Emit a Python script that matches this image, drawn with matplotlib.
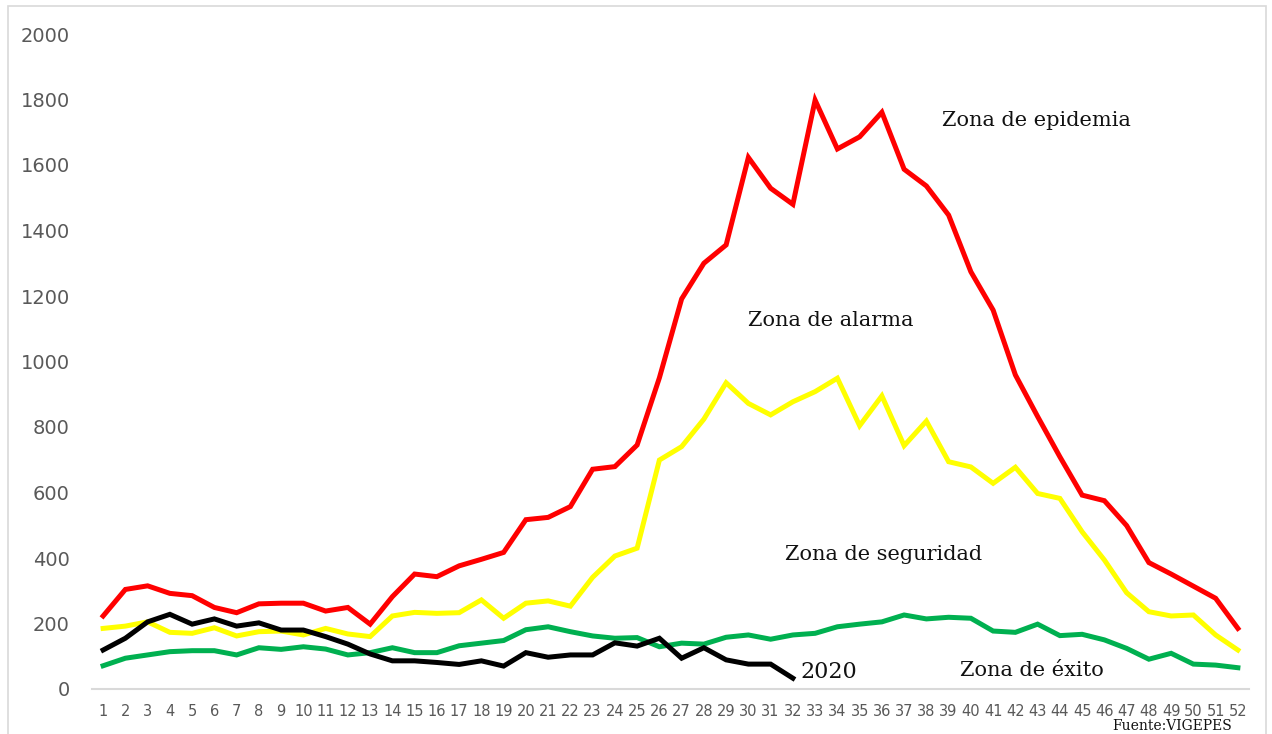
import matplotlib
matplotlib.use("Agg")
import matplotlib.pyplot as plt
from matplotlib.patches import Rectangle

weeks = list(range(1, 53))

epidemia = [223, 304, 315, 292, 285, 249, 233, 260, 262, 262, 238, 249, 198, 282, 351, 343, 376, 396, 417, 517,
            524, 557, 671, 679, 745, 950, 1191, 1300, 1356, 1623, 1529, 1480, 1798, 1649, 1686, 1761, 1587, 1536, 1447, 1274,
            1157, 959, 832, 709, 592, 575, 499, 386, 351, 314, 277, 185]
alarma = [185, 192, 205, 173, 170, 187, 162, 175, 177, 165, 185, 168, 160, 223, 234, 231, 233, 272, 216, 262,
          269, 253, 341, 406, 430, 699, 740, 824, 935, 872, 837, 877, 908, 949, 804, 895, 743, 818, 694, 678,
          628, 677, 597, 582, 480, 394, 294, 236, 223, 226, 165, 119]
seguridad = [71, 94, 104, 114, 117, 117, 104, 126, 121, 129, 122, 104, 111, 126, 111, 111, 132, 140, 148, 181,
             190, 175, 162, 155, 157, 129, 140, 137, 158, 165, 152, 165, 170, 190, 198, 205, 226, 214, 219, 216,
             177, 173, 198, 163, 167, 150, 124, 91, 109, 76, 73, 65]
w2020 = [119, 155, 205, 228, 198, 214, 192, 202, 180, 180, 160, 137, 107, 86, 86, 81, 75, 86, 70, 111,
         97, 104, 104, 141, 131, 155, 94, 126, 89, 76, 76, 33]

fig = plt.figure(figsize=(12.72, 7.34), dpi=100)
ax = fig.add_axes([92/1272, 1-689/734, (1249-92)/1272, (689-34)/734])

lw = 3.6
ax.plot(weeks, seguridad, color="#00B050", lw=lw, solid_joinstyle="miter", zorder=3)
ax.plot(weeks, alarma, color="#FFFF00", lw=lw, solid_joinstyle="miter", zorder=3)
ax.plot(weeks, epidemia, color="#FF0000", lw=lw, solid_joinstyle="miter", zorder=3)
ax.plot(weeks[:len(w2020)], w2020, color="#000000", lw=lw, solid_joinstyle="miter", zorder=4)

ax.set_xlim(0.5, 52.5)
ax.set_ylim(0, 2000)
ax.set_yticks(range(0, 2001, 200))
ax.set_xticks(weeks)
ax.set_xticklabels([str(w) for w in weeks])
for s in ["top", "right", "left"]:
    ax.spines[s].set_visible(False)
ax.spines["bottom"].set_color("#D9D9D9")
ax.spines["bottom"].set_linewidth(1.5)
ax.tick_params(axis="y", length=0, pad=16, labelsize=14, labelcolor="#595959")
ax.tick_params(axis="x", length=0, pad=11, labelsize=10.5, labelcolor="#595959")

serif = "DejaVu Serif"

def ftxt(x, y, s, size=15, va="center", **kw):
    fig.text(x/1272, 1-y/734, s, fontsize=size, family=serif, va=va, ha="left", color="#111111", **kw)

ftxt(942, 121, "Zona de epidemia")
ftxt(748, 320, "Zona de alarma")
ftxt(785, 555, "Zona de seguridad")
ftxt(960, 670, "Zona de éxito")
ftxt(800, 672, "2020", size=16)
ftxt(1112, 733, "Fuente:VIGEPES", size=10, va="bottom")

fig.patches.append(Rectangle((8/1272, 1-740/734), (1266-8)/1272, (740-6)/734,
                             transform=fig.transFigure, fill=False, edgecolor="#D9D9D9", lw=1.2))

fig.savefig("out.png", dpi=100)
